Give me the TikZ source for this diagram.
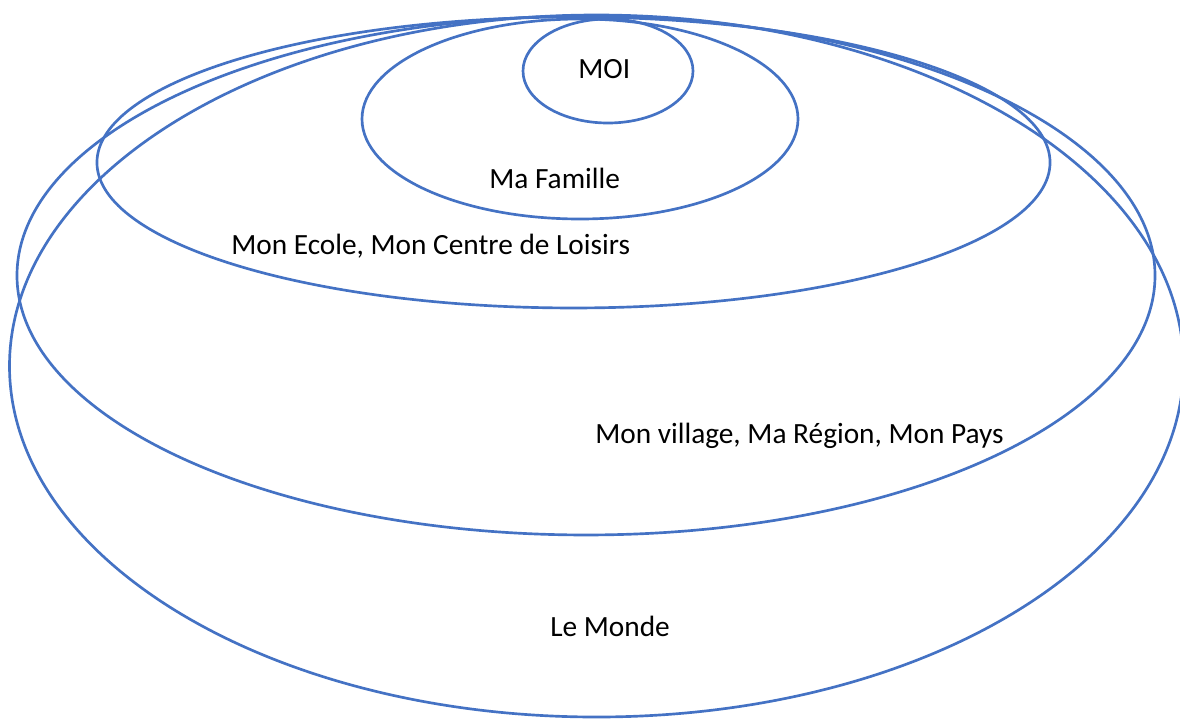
\documentclass[tikz,border=0pt]{standalone}
\usepackage{fontspec}
\setmainfont{Carlito}
\definecolor{ringblue}{HTML}{4472C4}
\begin{document}
\begin{tikzpicture}[x=0.75pt,y=-0.75pt,
  ring/.style={draw=ringblue,line width=2pt},
  lbl/.style={anchor=base west,inner sep=0pt,font=\fontsize{22}{26}\selectfont,text=black}]
\useasboundingbox (0,0) rectangle (1180,718);
\clip (0,0) rectangle (1180,718);
\fill[white] (0,0) rectangle (1180,718);
\draw[ring] (596.5,366) ellipse [x radius=440.25pt, y radius=263.25pt];
\draw[ring] (586,275.5) ellipse [x radius=426.75pt, y radius=194.6pt];
\draw[ring] (573.5,162.5) ellipse [x radius=357.4pt, y radius=109.1pt];
\draw[ring] (580,119) ellipse [x radius=163.5pt, y radius=75pt];
\draw[ring] (608,71) ellipse [x radius=63.75pt, y radius=39pt];
\node[lbl] (moi) at (578,78) {MOI};
\node[lbl] (famille) at (489,188) {Ma Famille};
\node[lbl] (ecole) at (231,254) {Mon Ecole, Mon Centre de Loisirs};
\node[lbl] (village) at (595,443) {Mon village, Ma Région, Mon Pays};
\node[lbl] (monde) at (550,636) {Le Monde};
\end{tikzpicture}
\end{document}
